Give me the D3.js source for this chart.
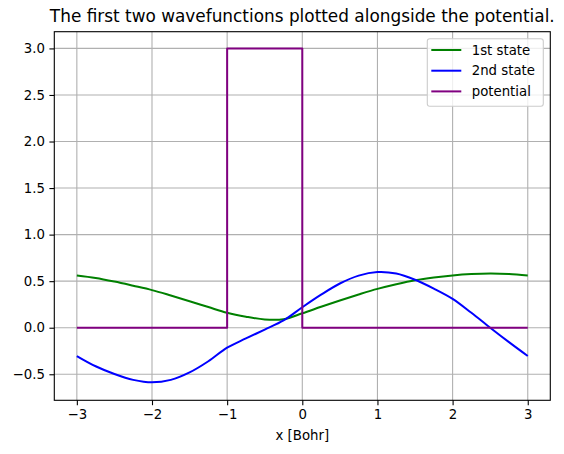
<!DOCTYPE html>
<html>
<head>
<meta charset="utf-8">
<script src="https://cdn.jsdelivr.net/npm/d3@7"></script>
<style>
  body { margin: 0; background: #fff; }
  svg { display: block; font-family: 'DejaVu Sans', sans-serif; }
</style>
</head>
<body>
<svg id="chart"></svg>
<script>
const SVG_WIDTH = 564;
const SVG_HEIGHT = 454;

// Sample positions (Bohr) and the two wavefunctions.
const xs = [-3, -2.75, -2.5, -2.25, -2, -1.75, -1.5, -1.25, -1, -0.75, -0.5, -0.25,
  0, 0.25, 0.5, 0.75, 1, 1.25, 1.5, 1.75, 2, 2.25, 2.5, 2.75, 3];
const state1 = [0.562, 0.535, 0.496, 0.451, 0.404, 0.346, 0.285, 0.222, 0.16, 0.118, 0.089, 0.092,
  0.155, 0.225, 0.293, 0.357, 0.417, 0.467, 0.51, 0.54, 0.562, 0.576, 0.582, 0.577, 0.562];
const state2 = [-0.304, -0.414, -0.497, -0.56, -0.587, -0.56, -0.48, -0.36, -0.214, -0.115, -0.02, 0.078,
  0.22, 0.355, 0.475, 0.56, 0.598, 0.582, 0.515, 0.42, 0.31, 0.16, 0.0, -0.155, -0.304];

// Step potential: zero outside, 3 between -1 and 0.
const potX = [-3, -1, -1, 0, 0, 3];
const potV = [0, 0, 3, 3, 0, 0];

const xTicks = [-3, -2, -1, 0, 1, 2, 3];
const yTicks = [-0.5, 0, 0.5, 1, 1.5, 2, 2.5, 3];

const series = [
  {label: '1st state', color: 'green', x: xs, y: state1, curve: d3.curveCatmullRom},
  {label: '2nd state', color: 'blue', x: xs, y: state2, curve: d3.curveCatmullRom},
  {label: 'potential', color: 'purple', x: potX, y: potV, curve: d3.curveLinear}
];

const margin = {top: 31.7, right: 13.7, bottom: 53.7, left: 54.3};
const width = SVG_WIDTH - margin.left - margin.right;
const height = SVG_HEIGHT - margin.top - margin.bottom;

const svg = d3.select('#chart')
  .attr('width', SVG_WIDTH)
  .attr('height', SVG_HEIGHT);

const g = svg.append('g')
  .attr('transform', `translate(${margin.left},${margin.top})`);

// Same 5% padding matplotlib adds around the data.
const xScale = d3.scaleLinear().domain([-3.3, 3.3]).range([0, width]);
const yScale = d3.scaleLinear().domain([-0.7796, 3.1796]).range([height, 0]);

// Grid lines.
g.append('g')
  .selectAll('line')
  .data(xTicks)
  .join('line')
  .attr('x1', d => xScale(d)).attr('x2', d => xScale(d))
  .attr('y1', 0).attr('y2', height)
  .attr('stroke', '#b0b0b0').attr('stroke-width', 1.1);

g.append('g')
  .selectAll('line')
  .data(yTicks)
  .join('line')
  .attr('y1', d => yScale(d)).attr('y2', d => yScale(d))
  .attr('x1', 0).attr('x2', width)
  .attr('stroke', '#b0b0b0').attr('stroke-width', 1.1);

// Curves.
for (const s of series) {
  const pts = s.x.map((x, i) => [x, s.y[i]]);
  g.append('path')
    .datum(pts)
    .attr('fill', 'none')
    .attr('stroke', s.color)
    .attr('stroke-width', 2)
    .attr('stroke-linejoin', 'round')
    .attr('d', d3.line()
      .x(d => xScale(d[0]))
      .y(d => yScale(d[1]))
      .curve(s.curve));
}

// Axes.
const fmtY = d3.format('.1f');
const xAxis = g.append('g')
  .attr('transform', `translate(0,${height})`)
  .call(d3.axisBottom(xScale).tickValues(xTicks).tickFormat(d3.format('d'))
    .tickSize(4.9).tickPadding(4.5).tickSizeOuter(0));
const yAxis = g.append('g')
  .call(d3.axisLeft(yScale).tickValues(yTicks).tickFormat(fmtY)
    .tickSize(4.9).tickPadding(4.5).tickSizeOuter(0));

for (const ax of [xAxis, yAxis]) {
  ax.select('.domain').remove();
  ax.selectAll('line').attr('stroke', '#000').attr('stroke-width', 1.1);
  ax.selectAll('text')
    .attr('fill', '#000')
    .style('font-size', '13.3px')
    .style('font-family', "'DejaVu Sans', sans-serif");
}

// Frame.
g.append('rect')
  .attr('width', width)
  .attr('height', height)
  .attr('fill', 'none')
  .attr('stroke', '#000')
  .attr('stroke-width', 1.1);

// Title and axis label.
svg.append('text')
  .attr('x', margin.left + width / 2)
  .attr('y', 22)
  .attr('text-anchor', 'middle')
  .style('font-size', '16.9px')
  .text('The first two wavefunctions plotted alongside the potential.');

svg.append('text')
  .attr('x', margin.left + width / 2)
  .attr('y', 440)
  .attr('text-anchor', 'middle')
  .style('font-size', '13.3px')
  .text('x [Bohr]');

// Legend.
const legend = svg.append('g').attr('transform', 'translate(427.3,38.7)');
legend.append('rect')
  .attr('width', 116)
  .attr('height', 67.6)
  .attr('rx', 2.5)
  .attr('fill', 'rgba(255,255,255,0.8)')
  .attr('stroke', '#cccccc')
  .attr('stroke-width', 1.1);

const rows = legend.selectAll('g.row')
  .data(series)
  .join('g')
  .attr('class', 'row')
  .attr('transform', (d, i) => `translate(0,${11.3 + i * 20.7})`);
rows.append('line')
  .attr('x1', 4).attr('x2', 34)
  .attr('stroke', d => d.color)
  .attr('stroke-width', 2);
rows.append('text')
  .attr('x', 44.4)
  .attr('dy', '0.35em')
  .style('font-size', '13.3px')
  .text(d => d.label);
</script>
</body>
</html>
